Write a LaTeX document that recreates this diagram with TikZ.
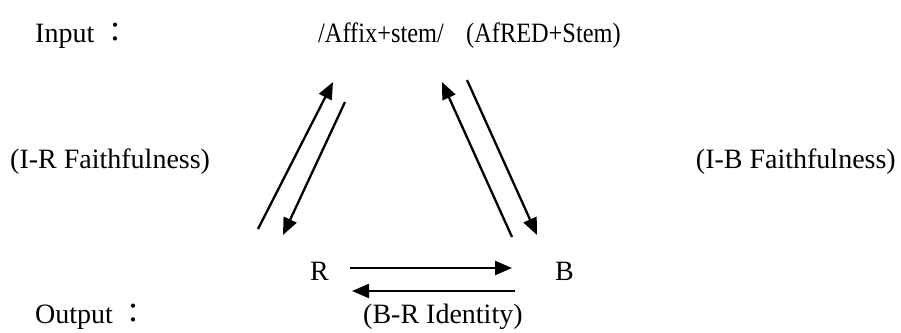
\documentclass[tikz,border=0pt]{standalone}
\usepackage{fontspec}
\usepackage{graphicx}
\setmainfont{Liberation Serif}
\newfontfamily\cjkfont{Noto Sans CJK TC}
\usetikzlibrary{arrows.meta}
\newcommand{\cond}[1]{\scalebox{0.87}[1]{#1}}
\newcommand{\fwcolon}{\hspace{7pt}{\cjkfont：}}
\tikzset{
  lbl/.style={anchor=base west, inner sep=0pt, font=\fontsize{28}{32}\selectfont},
  arr/.style={line width=2.3pt, -{Triangle[length=17pt,width=14pt]}}
}
\begin{document}
\begin{tikzpicture}[x=1pt,y=-1pt]
  \useasboundingbox (0,0) rectangle (901,332);
  % text labels
  \node[lbl] (inlab)  at (35,42)  {Input\fwcolon};
  \node[lbl] (input)  at (318,42) {\cond{/Affix+stem/}};
  \node[lbl] (inred)  at (466,42) {\cond{(AfRED+Stem)}};
  \node[lbl] (irf)    at (10,168) {(I-R Faithfulness)};
  \node[lbl, anchor=base east] (ibf) at (896,168) {(I-B Faithfulness)};
  \node[lbl] (R)      at (310,280) {R};
  \node[lbl] (B)      at (555,280) {B};
  \node[lbl] (outlab) at (35,323) {Output\fwcolon};
  \node[lbl] (brid)   at (363,323) {(B-R Identity)};
  % arrow end points
  \coordinate (lu0) at (258,229); \coordinate (lu1) at (333,82);
  \coordinate (ld0) at (345,102); \coordinate (ld1) at (283,235);
  \coordinate (ru0) at (512,237); \coordinate (ru1) at (442,82);
  \coordinate (rd0) at (467,80);  \coordinate (rd1) at (537,235);
  \coordinate (br0) at (350,268); \coordinate (br1) at (512,268);
  \coordinate (bl0) at (515,291); \coordinate (bl1) at (352,291);
  % connectors
  \draw[arr] (lu0) -- (lu1);
  \draw[arr] (ld0) -- (ld1);
  \draw[arr] (ru0) -- (ru1);
  \draw[arr] (rd0) -- (rd1);
  \draw[arr] (br0) -- (br1);
  \draw[arr] (bl0) -- (bl1);
\end{tikzpicture}
\end{document}
